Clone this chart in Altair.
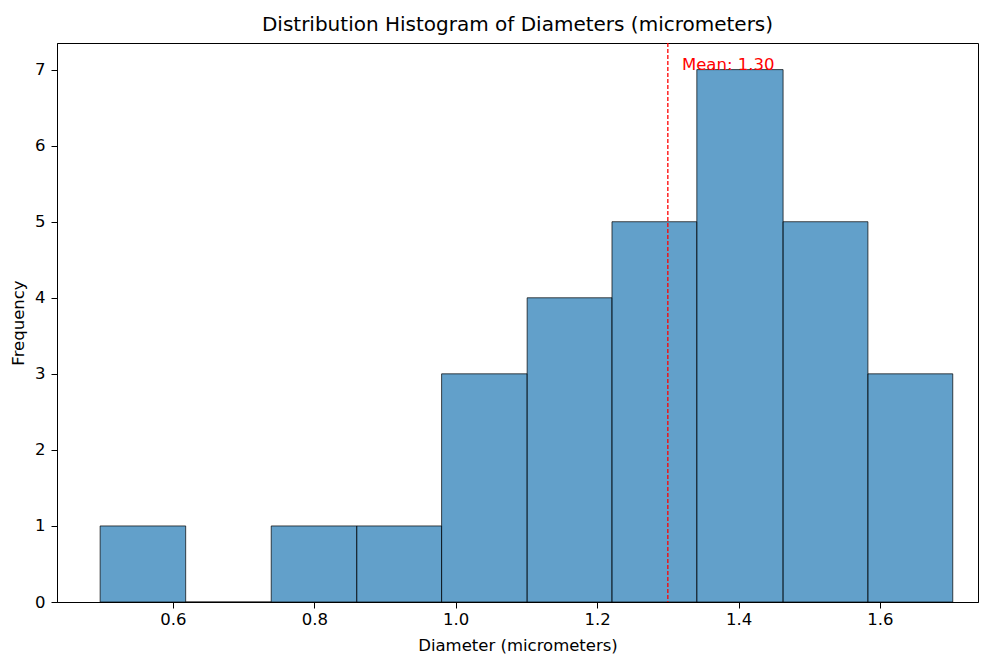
import altair as alt
import pandas as pd

bin_start = [0.497, 0.618, 0.739, 0.860, 0.980, 1.101, 1.221, 1.341, 1.463, 1.583]
bin_end = [0.618, 0.739, 0.860, 0.980, 1.101, 1.221, 1.341, 1.463, 1.583, 1.703]
counts = [1, 0, 1, 1, 3, 4, 5, 7, 5, 3]
mean_value = 1.30
mean_label = "Mean: 1.30"
x_ticks = [0.6, 0.8, 1.0, 1.2, 1.4, 1.6]
y_ticks = [0, 1, 2, 3, 4, 5, 6, 7]

bars_df = pd.DataFrame({"start": bin_start, "end": bin_end, "count": counts})
mean_df = pd.DataFrame({"mean": [mean_value]})
text_df = pd.DataFrame({"x": [mean_value + 0.02], "y": [max(counts)], "label": [mean_label]})

FONT = "DejaVu Sans"
FS = 16.5
xscale = alt.Scale(domain=[0.436, 1.7387], nice=False, zero=False)
yscale = alt.Scale(domain=[0, 7.35], nice=False)

xaxis = alt.Axis(values=x_ticks, format=".1f", grid=False, title="Diameter (micrometers)",
                 labelFont=FONT, labelFontSize=FS, titleFont=FONT, titleFontSize=FS,
                 titleFontWeight="normal", labelColor="black", titleColor="black",
                 tickColor="black", domainColor="black", tickSize=6, labelPadding=3,
                 titlePadding=10, labelFlush=False)
yaxis = alt.Axis(values=y_ticks, format="d", grid=False, title="Frequency",
                 labelFont=FONT, labelFontSize=FS, titleFont=FONT, titleFontSize=FS,
                 titleFontWeight="normal", labelColor="black", titleColor="black",
                 tickColor="black", domainColor="black", tickSize=6, labelPadding=6,
                 titlePadding=8, labelFlush=False)

bars = alt.Chart(bars_df).mark_rect(
    fill="#1f77b4", fillOpacity=0.7, stroke="black", strokeOpacity=0.7, strokeWidth=1
).encode(
    x=alt.X("start:Q", scale=xscale, axis=xaxis),
    x2="end:Q",
    y=alt.Y("count:Q", scale=yscale, axis=yaxis),
    y2=alt.datum(0),
)

rule = alt.Chart(mean_df).mark_rule(color="red", strokeWidth=1.3, strokeDash=[4, 2]).encode(
    x=alt.X("mean:Q", scale=xscale),
)

label = alt.Chart(text_df).mark_text(
    color="red", align="left", baseline="alphabetic", font=FONT, fontSize=FS
).encode(
    x=alt.X("x:Q", scale=xscale),
    y=alt.Y("y:Q", scale=yscale),
    text="label:N",
)

chart = alt.layer(bars, rule, label).properties(
    width=921, height=559,
    title=alt.TitleParams("Distribution Histogram of Diameters (micrometers)", font=FONT,
                          fontSize=20, fontWeight="normal", color="black", anchor="middle",
                          offset=7),
    autosize=alt.AutoSizeParams(type="none"),
    padding={"left": 49, "top": 35, "right": 1, "bottom": 53},
).configure(background="white").configure_view(stroke="black", strokeWidth=1)

chart.save("out.html", embed_options={"renderer": "svg", "actions": False})
